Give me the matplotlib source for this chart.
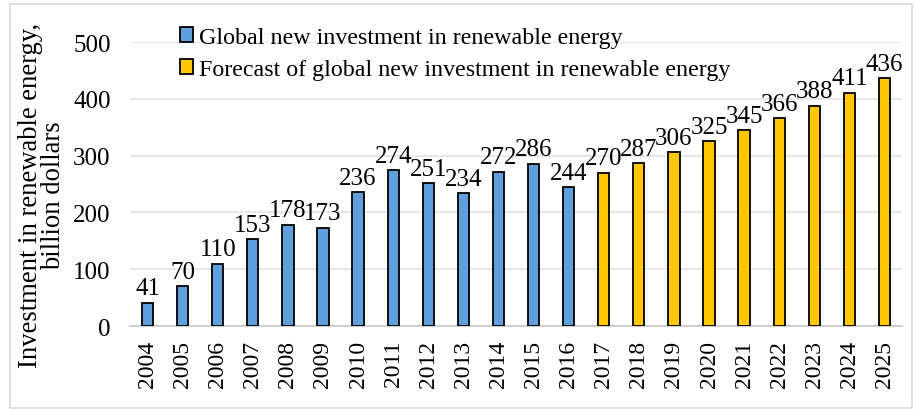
import matplotlib
matplotlib.use("Agg")
import matplotlib.pyplot as plt
from matplotlib.patches import Patch, Rectangle

years_hist = ["2004","2005","2006","2007","2008","2009","2010","2011","2012","2013","2014","2015","2016"]
values_hist = [41,70,110,153,178,173,236,274,251,234,272,286,244]
years_fc = ["2017","2018","2019","2020","2021","2022","2023","2024","2025"]
values_fc = [270,287,306,325,345,366,388,411,436]
yticks = [0,100,200,300,400,500]

plt.rcParams['font.family'] = ['Liberation Serif', 'DejaVu Serif']

blue = "#5E9FDC"
yellow = "#FFC800"

fig = plt.figure(figsize=(9.18, 4.14), dpi=100)
ax = fig.add_axes([0.1416, 0.21, 0.841, 0.686])

labels = years_hist + years_fc
x_hist = list(range(len(years_hist)))
x_fc = list(range(len(years_hist), len(labels)))
w = 0.32
b1 = ax.bar(x_hist, values_hist, width=w, color=blue, edgecolor="black", linewidth=1.3, zorder=3)
b2 = ax.bar(x_fc, values_fc, width=w, color=yellow, edgecolor="black", linewidth=1.3, zorder=3)
for bars, vals in ((b1, values_hist), (b2, values_fc)):
    for r, v in zip(bars, vals):
        ax.annotate(str(v), (r.get_x() + r.get_width()/2, v), xytext=(0, 2.5),
                    textcoords="offset points", ha="center", va="bottom", fontsize=18)

ax.set_xlim(-0.5, len(labels) - 0.5)
ax.set_ylim(0, 500)
ax.set_yticks(yticks)
ax.set_yticklabels([str(t) for t in yticks], fontsize=18)
ax.set_xticks(range(len(labels)))
ax.set_xticklabels(labels, rotation=90, fontsize=17)
ax.tick_params(axis='y', length=0, pad=14)
ax.tick_params(axis='x', length=0, pad=10)
ax.yaxis.grid(True, color="#E3E3E3", linewidth=1.2, zorder=0)
ax.set_axisbelow(True)
for s in ["top", "right", "left"]:
    ax.spines[s].set_visible(False)
ax.spines["bottom"].set_color("#D0D0D0")
ax.spines["bottom"].set_linewidth(1.5)

fig.text(42/918, 1 - 196/414, "Investment in renewable energy,\nbillion dollars",
         rotation=90, ha="center", va="center", fontsize=19.2, linespacing=0.92,
         multialignment="center")

handles = [Patch(facecolor=blue, edgecolor="black", linewidth=1.3),
           Patch(facecolor=yellow, edgecolor="black", linewidth=1.3)]
fig.legend(handles, ["Global new investment in renewable energy",
                     "Forecast of global new investment in renewable energy"],
           loc="upper left", bbox_to_anchor=(180/918, 1 - 28/414), frameon=False, fontsize=17.3,
           handlelength=0.55, handleheight=0.55, handletextpad=0.25, labelspacing=0.45,
           borderaxespad=0, borderpad=0)

fig.patches.append(Rectangle((0.011, 0.012), 0.982, 0.976, transform=fig.transFigure,
                             fill=False, edgecolor="#D9D9D9", linewidth=1.2))

fig.savefig("out.png", dpi=100)
